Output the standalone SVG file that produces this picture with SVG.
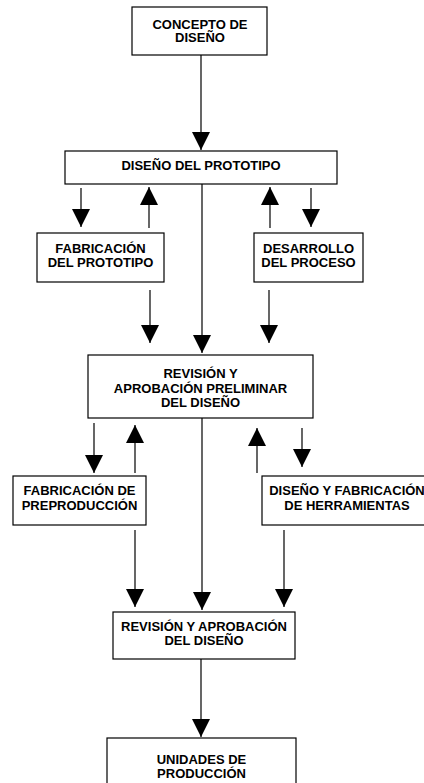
<svg xmlns="http://www.w3.org/2000/svg" width="424" height="783" viewBox="0 0 424 783">
<style>
.box{fill:#fff;stroke:#000;stroke-width:1.2}
.t{font-family:"Liberation Sans",Arial,sans-serif;font-weight:bold;font-size:13px;fill:#000;text-anchor:middle}
.c{stroke:#000;stroke-width:1.2;fill:none;marker-end:url(#ah)}
</style>
<defs>
<marker id="ah" markerUnits="userSpaceOnUse" markerWidth="18" markerHeight="19" refX="17" refY="8.5" orient="auto" viewBox="0 0 17 17">
<path d="M0,0 L17,8.5 L0,17 Z" fill="#000"/>
</marker>
</defs>
<rect width="424" height="783" fill="#fff"/>
<g id="connectors">
<line class="c" x1="201" y1="55" x2="201" y2="150"/>
<line class="c" x1="81" y1="188" x2="81" y2="227"/>
<line class="c" x1="149" y1="228" x2="149" y2="187"/>
<line class="c" x1="270" y1="228" x2="270" y2="187"/>
<line class="c" x1="311" y1="188" x2="311" y2="227"/>
<line class="c" x1="150" y1="290" x2="150" y2="343"/>
<line class="c" x1="202" y1="184" x2="202" y2="353"/>
<line class="c" x1="269" y1="290" x2="269" y2="343"/>
<line class="c" x1="94" y1="423" x2="94" y2="473"/>
<line class="c" x1="135" y1="473" x2="135" y2="425"/>
<line class="c" x1="257" y1="473" x2="257" y2="428"/>
<line class="c" x1="302" y1="428" x2="302" y2="467"/>
<line class="c" x1="135" y1="530" x2="135" y2="607"/>
<line class="c" x1="202" y1="418" x2="202" y2="610"/>
<line class="c" x1="284" y1="530" x2="284" y2="607"/>
<line class="c" x1="201" y1="659" x2="201" y2="737"/>
</g>
<g id="n1">
<rect class="box" x="132" y="7" width="135" height="48"/>
<text class="t" x="200" y="28.5">CONCEPTO DE</text>
<text class="t" x="200" y="42">DISEÑO</text>
</g>
<g id="n2">
<rect class="box" x="65" y="151" width="272" height="33"/>
<text class="t" x="201" y="170">DISEÑO DEL PROTOTIPO</text>
</g>
<g id="n3">
<rect class="box" x="37" y="233" width="127" height="49"/>
<text class="t" x="100.5" y="253">FABRICACIÓN</text>
<text class="t" x="100.5" y="267">DEL PROTOTIPO</text>
</g>
<g id="n4">
<rect class="box" x="254" y="233" width="109" height="49"/>
<text class="t" x="308.5" y="253">DESARROLLO</text>
<text class="t" x="308.5" y="267">DEL PROCESO</text>
</g>
<g id="n5">
<rect class="box" x="88" y="355" width="225" height="63"/>
<text class="t" x="200.5" y="377.5">REVISIÓN Y</text>
<text class="t" x="200.5" y="393">APROBACIÓN PRELIMINAR</text>
<text class="t" x="200.5" y="407">DEL DISEÑO</text>
</g>
<g id="n6">
<rect class="box" x="13" y="476" width="133" height="49"/>
<text class="t" x="79.5" y="495">FABRICACIÓN DE</text>
<text class="t" x="79.5" y="510">PREPRODUCCIÓN</text>
</g>
<g id="n7">
<rect class="box" x="262" y="476" width="170" height="49"/>
<text class="t" x="347" y="495">DISEÑO Y FABRICACIÓN</text>
<text class="t" x="347" y="510">DE HERRAMIENTAS</text>
</g>
<g id="n8">
<rect class="box" x="113" y="612" width="182" height="47"/>
<text class="t" x="204" y="631">REVISIÓN Y APROBACIÓN</text>
<text class="t" x="204" y="645">DEL DISEÑO</text>
</g>
<g id="n9">
<rect class="box" x="107" y="738" width="189" height="60"/>
<text class="t" x="201.5" y="764">UNIDADES DE</text>
<text class="t" x="201.5" y="778">PRODUCCIÓN</text>
</g>
</svg>
